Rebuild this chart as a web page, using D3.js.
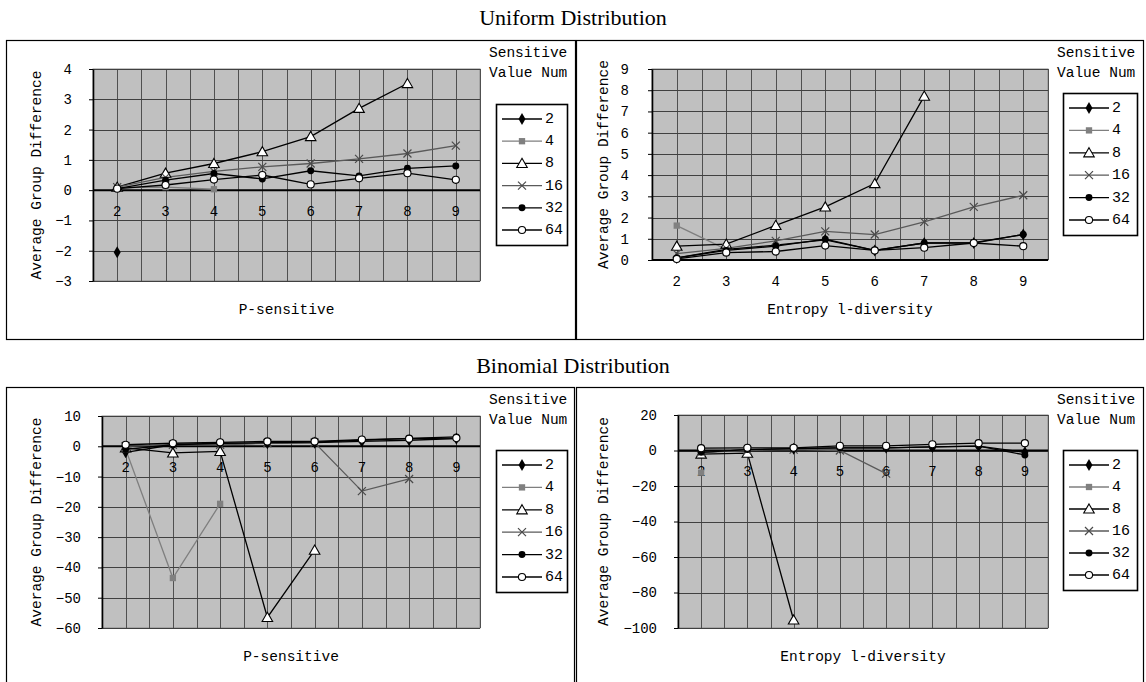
<!DOCTYPE html>
<html>
<head>
<meta charset="utf-8">
<script src="https://cdn.jsdelivr.net/npm/d3@7"></script>
<style>
  html, body { margin: 0; padding: 0; background: #ffffff; }
  svg { display: block; }
  .mono { font-family: "Liberation Mono", "DejaVu Sans Mono", monospace; }
  .title { font-family: "Liberation Serif", "DejaVu Serif", serif; }
</style>
</head>
<body>
<svg id="chart" width="1146" height="682"></svg>
<script>
// Shared categories and series names
const categories = [2, 3, 4, 5, 6, 7, 8, 9];
const seriesNames = ["2", "4", "8", "16", "32", "64"];

// Uniform distribution, P-sensitive
const uniP2  = [-2.05, null, null, null, null, null, null, null];
const uniP4  = [0.08, 0.1, 0.03, null, null, null, null, null];
const uniP8  = [0.1, 0.56, 0.88, 1.27, 1.77, 2.7, 3.52, null];
const uniP16 = [0.1, 0.42, 0.62, 0.77, 0.88, 1.03, 1.21, 1.47];
const uniP32 = [0.05, 0.33, 0.55, 0.37, 0.64, 0.47, 0.72, 0.8];
const uniP64 = [0.05, 0.17, 0.35, 0.5, 0.19, 0.39, 0.56, 0.34];

// Uniform distribution, Entropy l-diversity
const uniE2  = [0.1, 0.5, 0.7, 0.95, 0.45, 0.8, 0.8, 1.2];
const uniE4  = [1.62, 0.5, null, null, null, null, null, null];
const uniE8  = [0.65, 0.75, 1.63, 2.5, 3.6, 7.72, null, null];
const uniE16 = [0.3, 0.55, 0.9, 1.35, 1.2, 1.8, 2.5, 3.05];
const uniE32 = [0.1, 0.45, 0.65, 0.98, 0.45, 0.8, 0.82, 1.2];
const uniE64 = [0.05, 0.35, 0.4, 0.68, 0.45, 0.58, 0.8, 0.65];

// Binomial distribution, P-sensitive
const binP2  = [-2, 0.5, 0.8, 1, 1.2, 1.6, 2, 2.5];
const binP4  = [-1, -43.5, -19, null, null, null, null, null];
const binP8  = [-0.5, -2.2, -1.7, -56.5, -34.3, null, null, null];
const binP16 = [0, 0.5, 0.5, 1, 1.2, -14.8, -10.8, null];
const binP32 = [-1, 0.5, 1, 1.2, 1.4, 2, 2.6, 3.1];
const binP64 = [0.5, 1, 1.3, 1.6, 1.6, 2.2, 2.5, 2.7];

// Binomial distribution, Entropy l-diversity
const binE2  = [-1, 0.5, 1, 1.5, 1.5, 2, 2.5, -1];
const binE4  = [-12.5, null, null, null, null, null, null, null];
const binE8  = [-2, -1.5, -95.5, null, null, null, null, null];
const binE16 = [-1, 0, 0.5, 0, -13, null, null, null];
const binE32 = [-1, 0.5, 1, 1.5, 1.5, 2, 2.5, -2.5];
const binE64 = [1.3, 1.5, 1.5, 2.6, 2.6, 3.5, 4.1, 4.1];

// Y tick values per panel
const uniPTicks = [-3, -2, -1, 0, 1, 2, 3, 4];
const uniETicks = [0, 1, 2, 3, 4, 5, 6, 7, 8, 9];
const binPTicks = [-60, -50, -40, -30, -20, -10, 0, 10];
const binETicks = [-100, -80, -60, -40, -20, 0, 20];

const svg = d3.select("#chart");

// Section titles
svg.append("text").attr("class", "title").attr("x", 573).attr("y", 25)
  .attr("text-anchor", "middle").attr("font-size", 22).text("Uniform Distribution");
svg.append("text").attr("class", "title").attr("x", 573).attr("y", 373)
  .attr("text-anchor", "middle").attr("font-size", 22).text("Binomial Distribution");

// Series styling: line colour, marker kind
const seriesStyle = [
  { line: "#000000", marker: "diamond" },
  { line: "#7f7f7f", marker: "square" },
  { line: "#000000", marker: "triangle" },
  { line: "#5a5a5a", marker: "times" },
  { line: "#000000", marker: "dot" },
  { line: "#000000", marker: "ring" }
];

function drawMarker(g, kind, x, y) {
  if (kind === "diamond") {
    g.append("path").attr("d", d3.symbol(d3.symbolDiamond, 42)())
      .attr("transform", `translate(${x},${y})`).attr("fill", "#000");
  } else if (kind === "square") {
    g.append("path").attr("d", d3.symbol(d3.symbolSquare, 40)())
      .attr("transform", `translate(${x},${y})`).attr("fill", "#808080");
  } else if (kind === "triangle") {
    g.append("path").attr("d", d3.symbol(d3.symbolTriangle, 48)())
      .attr("transform", `translate(${x},${y + 1})`)
      .attr("fill", "#fff").attr("stroke", "#000").attr("stroke-width", 1.1);
  } else if (kind === "times") {
    const r = 4;
    g.append("path")
      .attr("d", `M${x - r},${y - r}L${x + r},${y + r}M${x - r},${y + r}L${x + r},${y - r}`)
      .attr("stroke", "#4a4a4a").attr("stroke-width", 1.2).attr("fill", "none");
  } else if (kind === "dot") {
    g.append("path").attr("d", d3.symbol(d3.symbolCircle, 38)())
      .attr("transform", `translate(${x},${y})`).attr("fill", "#000");
  } else if (kind === "ring") {
    g.append("path").attr("d", d3.symbol(d3.symbolCircle, 40)())
      .attr("transform", `translate(${x},${y})`)
      .attr("fill", "#fff").attr("stroke", "#000").attr("stroke-width", 1.1);
  }
}

function drawPanel(cfg) {
  const g = svg.append("g");
  const [bx0, by0, bx1, by1] = cfg.box;
  // outer frame
  g.append("rect").attr("x", bx0 + 0.5).attr("y", by0 + 0.5)
    .attr("width", bx1 - bx0).attr("height", by1 - by0)
    .attr("fill", "#fff").attr("stroke", "#000").attr("stroke-width", 1.2);

  const x = d3.scaleBand().domain(categories).range([cfg.plot[0], cfg.plot[2]]);
  const y = d3.scaleLinear().domain(cfg.domain).range([cfg.plot[3], cfg.plot[1]]);
  const cx = c => x(c) + x.bandwidth() / 2;

  // plot area
  g.append("rect").attr("x", cfg.plot[0]).attr("y", cfg.plot[1])
    .attr("width", cfg.plot[2] - cfg.plot[0]).attr("height", cfg.plot[3] - cfg.plot[1])
    .attr("fill", "#c0c0c0").attr("stroke", "#8a8a8a").attr("stroke-width", 1);

  // vertical grid at every half band
  const vLines = [];
  categories.forEach(c => { vLines.push(x(c)); vLines.push(cx(c)); });
  vLines.push(cfg.plot[2]);
  g.selectAll(null).data(vLines).enter().append("line")
    .attr("x1", d => Math.round(d) + 0.5).attr("x2", d => Math.round(d) + 0.5)
    .attr("y1", cfg.plot[1]).attr("y2", cfg.plot[3])
    .attr("stroke", "#505050").attr("stroke-width", 1);

  // horizontal grid
  g.selectAll(null).data(cfg.ticks).enter().append("line")
    .attr("x1", cfg.plot[0]).attr("x2", cfg.plot[2])
    .attr("y1", d => Math.round(y(d)) + 0.5).attr("y2", d => Math.round(y(d)) + 0.5)
    .attr("stroke", "#404040").attr("stroke-width", 1);

  // value axis
  const yAxis = d3.axisLeft(y).tickValues(cfg.ticks).tickFormat(d3.format("d"))
    .tickSizeInner(4).tickSizeOuter(0).tickPadding(cfg.tickPad);
  const ya = g.append("g").attr("transform", `translate(${cfg.plot[0]},0)`).call(yAxis);
  ya.select(".domain").attr("stroke", "#000").attr("stroke-width", 1.6);
  ya.selectAll(".tick line").attr("stroke", "#000");
  ya.selectAll(".tick text").attr("class", "mono").attr("font-size", 14).attr("fill", "#000");

  // category axis sits on the zero line
  const y0 = y(0);
  g.append("line").attr("x1", cfg.plot[0]).attr("x2", cfg.plot[2])
    .attr("y1", y0).attr("y2", y0).attr("stroke", "#000").attr("stroke-width", 2);
  const xAxis = d3.axisBottom(x).tickSize(0).tickPadding(16);
  const xa = g.append("g").attr("transform", `translate(0,${y0})`).call(xAxis);
  xa.select(".domain").remove();
  xa.selectAll(".tick text").attr("class", "mono").attr("font-size", 14).attr("fill", "#000");

  // series
  cfg.series.forEach((vals, i) => {
    const st = seriesStyle[i];
    const pts = categories.map((c, j) => ({ c, v: vals[j] }));
    const line = d3.line().defined(d => d.v != null).x(d => cx(d.c)).y(d => y(d.v));
    g.append("path").datum(pts).attr("d", line)
      .attr("fill", "none").attr("stroke", st.line).attr("stroke-width", 1.3);
  });
  cfg.series.forEach((vals, i) => {
    const st = seriesStyle[i];
    categories.forEach((c, j) => {
      if (vals[j] != null) drawMarker(g, st.marker, cx(c), y(vals[j]));
    });
  });

  // axis titles
  const midY = (cfg.plot[1] + cfg.plot[3]) / 2;
  g.append("text").attr("class", "mono").attr("font-size", 14.5)
    .attr("transform", `translate(${cfg.yLabelX},${midY}) rotate(-90)`)
    .attr("text-anchor", "middle").attr("dominant-baseline", "middle")
    .text("Average Group Difference");
  g.append("text").attr("class", "mono").attr("font-size", 14.5)
    .attr("x", (cfg.plot[0] + cfg.plot[2]) / 2).attr("y", cfg.xLabelY)
    .attr("text-anchor", "middle").attr("dominant-baseline", "middle")
    .text(cfg.xLabel);

  // legend
  const [lx0, ly0, lx1, ly1] = cfg.legendBox;
  g.append("text").attr("class", "mono").attr("font-size", 14.5)
    .attr("x", cfg.legendTitleX).attr("y", cfg.legendTitleY).attr("dominant-baseline", "middle")
    .text("Sensitive");
  g.append("text").attr("class", "mono").attr("font-size", 14.5)
    .attr("x", cfg.legendTitleX).attr("y", cfg.legendTitleY + 20).attr("dominant-baseline", "middle")
    .text("Value Num");
  g.append("rect").attr("x", lx0 + 0.5).attr("y", ly0 + 0.5)
    .attr("width", lx1 - lx0).attr("height", ly1 - ly0)
    .attr("fill", "#fff").attr("stroke", "#000").attr("stroke-width", 1.6);
  const step = (ly1 - ly0 - 2 * cfg.legendPad) / (seriesNames.length - 1);
  seriesNames.forEach((name, i) => {
    const ey = ly0 + cfg.legendPad + i * step;
    const st = seriesStyle[i];
    g.append("line").attr("x1", lx0 + 6).attr("x2", lx0 + 46)
      .attr("y1", ey).attr("y2", ey).attr("stroke", st.line).attr("stroke-width", 1.3);
    drawMarker(g, st.marker, lx0 + 26, ey);
    g.append("text").attr("class", "mono").attr("font-size", 15)
      .attr("x", lx0 + 49).attr("y", ey).attr("dominant-baseline", "middle").text(name);
  });
}

drawPanel({
  box: [6, 40, 575, 339], plot: [93, 69, 480, 281], domain: [-3, 4], ticks: uniPTicks, tickPad: 17,
  series: [uniP2, uniP4, uniP8, uniP16, uniP32, uniP64],
  yLabelX: 37, xLabel: "P-sensitive", xLabelY: 310,
  legendTitleX: 489, legendTitleY: 53, legendBox: [496, 104, 567, 245], legendPad: 15
});
drawPanel({
  box: [576, 40, 1143, 339], plot: [652, 69, 1048, 260], domain: [0, 9], ticks: uniETicks, tickPad: 19,
  series: [uniE2, uniE4, uniE8, uniE16, uniE32, uniE64],
  yLabelX: 604, xLabel: "Entropy l-diversity", xLabelY: 310,
  legendTitleX: 1057, legendTitleY: 53, legendBox: [1063, 93, 1137, 235], legendPad: 15
});
drawPanel({
  box: [6, 387, 574, 700], plot: [102, 416, 480, 628], domain: [-60, 10], ticks: binPTicks, tickPad: 17,
  series: [binP2, binP4, binP8, binP16, binP32, binP64],
  yLabelX: 37, xLabel: "P-sensitive", xLabelY: 657,
  legendTitleX: 489, legendTitleY: 400, legendBox: [496, 450, 567, 592], legendPad: 15
});
drawPanel({
  box: [576, 387, 1143, 700], plot: [678, 415, 1048, 628], domain: [-100, 20], ticks: binETicks, tickPad: 17,
  series: [binE2, binE4, binE8, binE16, binE32, binE64],
  yLabelX: 604, xLabel: "Entropy l-diversity", xLabelY: 657,
  legendTitleX: 1057, legendTitleY: 400, legendBox: [1063, 450, 1137, 590], legendPad: 15
});
</script>
</body>
</html>
